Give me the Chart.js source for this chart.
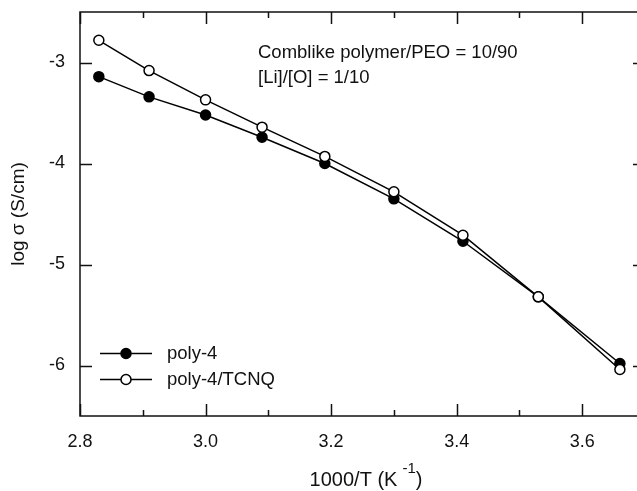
<!DOCTYPE html>
<html>
<head>
<meta charset="utf-8">
<script src="https://cdn.jsdelivr.net/npm/chart.js@4"></script>
<style>
  html, body { margin: 0; padding: 0; background: #fff; overflow: hidden; }
  #wrap { width: 637px; height: 491px; overflow: hidden; }
</style>
</head>
<body>
<div id="wrap"><canvas id="graph" width="660" height="491"></canvas></div>
<script>
// data
const invTemp = [2.83, 2.91, 3.00, 3.09, 3.19, 3.30, 3.41, 3.53, 3.66];
const poly4 = [-3.14, -3.34, -3.52, -3.74, -4.00, -4.35, -4.77, -5.32, -5.98];
const poly4Tcnq = [-2.78, -3.08, -3.37, -3.64, -3.93, -4.28, -4.71, -5.32, -6.04];
const seriesNames = ['poly-4', 'poly-4/TCNQ'];
const xTicks = [2.8, 3.0, 3.2, 3.4, 3.6];
const xMinorTicks = [2.9, 3.1, 3.3, 3.5];
const yTicks = [-6, -5, -4, -3];
const noteLines = ['Comblike polymer/PEO = 10/90', '[Li]/[O] = 1/10'];

const FONT = '"Liberation Sans", Arial, sans-serif';
const INK = '#111';

const toPoints = ys => ys.map((y, i) => ({ x: invTemp[i], y: y }));

// frame + inward ticks on all four sides
const frameTicks = {
  id: 'frameTicks',
  afterDraw(chart) {
    const c = chart.ctx, a = chart.chartArea;
    const sx = chart.scales.x, sy = chart.scales.y;
    c.save();
    c.strokeStyle = INK;
    c.lineWidth = 1.5;
    c.strokeRect(a.left, a.top, a.right - a.left, a.bottom - a.top);
    c.beginPath();
    const xt = xTicks.map(v => [v, 12]).concat(xMinorTicks.map(v => [v, 6]));
    xt.forEach(([v, len]) => {
      const px = Math.round(sx.getPixelForValue(v)) + 0.5;
      c.moveTo(px, a.bottom); c.lineTo(px, a.bottom - len);
      c.moveTo(px, a.top); c.lineTo(px, a.top + len);
    });
    yTicks.forEach(v => {
      const py = Math.round(sy.getPixelForValue(v)) + 0.5;
      c.moveTo(a.left, py); c.lineTo(a.left + 12, py);
      c.moveTo(a.right, py); c.lineTo(a.right - 12, py);
    });
    c.stroke();
    c.restore();
  }
};

// axis titles, note text and legend
const labels = {
  id: 'labels',
  afterDraw(chart) {
    const c = chart.ctx, a = chart.chartArea;
    c.save();
    c.fillStyle = INK;
    c.textBaseline = 'middle';

    // y title
    c.save();
    c.translate(19, (a.top + a.bottom) / 2);
    c.rotate(-Math.PI / 2);
    c.textAlign = 'center';
    c.font = '19px ' + FONT;
    c.fillText('log σ (S/cm)', 0, 0);
    c.restore();

    // x title with superscript
    const main = '1000/T (K';
    c.font = '20px ' + FONT;
    const w1 = c.measureText(main).width;
    c.font = '15px ' + FONT;
    const w2 = c.measureText('-1').width;
    c.font = '20px ' + FONT;
    const w3 = c.measureText(')').width;
    let x0 = 366 - (w1 + 5 + w2 + w3) / 2;
    c.textAlign = 'left';
    c.fillText(main, x0, 480);
    c.font = '15px ' + FONT;
    c.fillText('-1', x0 + w1 + 5, 469);
    c.font = '20px ' + FONT;
    c.fillText(')', x0 + w1 + 5 + w2, 480);

    // note
    c.font = '18.5px ' + FONT;
    noteLines.forEach((t, i) => c.fillText(t, 258, 53 + i * 24.5));

    // legend
    c.font = '18.5px ' + FONT;
    chart.data.datasets.forEach((ds, i) => {
      const y = 353.5 + i * 26;
      c.strokeStyle = '#000';
      c.lineWidth = 1.5;
      c.beginPath();
      c.moveTo(100, y); c.lineTo(152, y);
      c.stroke();
      c.beginPath();
      c.arc(126, y, 5, 0, Math.PI * 2);
      c.fillStyle = ds.pointBackgroundColor;
      c.fill();
      c.stroke();
      c.fillStyle = INK;
      c.fillText(ds.label, 167, y);
    });
    c.restore();
  }
};

new Chart(document.getElementById('graph'), {
  type: 'line',
  data: {
    datasets: [{
      label: seriesNames[0],
      data: toPoints(poly4),
      borderColor: '#000',
      borderWidth: 1.5,
      pointRadius: 5,
      pointBorderWidth: 1.5,
      pointBorderColor: '#000',
      pointBackgroundColor: '#000',
      order: 2
    }, {
      label: seriesNames[1],
      data: toPoints(poly4Tcnq),
      borderColor: '#000',
      borderWidth: 1.5,
      pointRadius: 5,
      pointBorderWidth: 1.5,
      pointBorderColor: '#000',
      pointBackgroundColor: '#fff',
      order: 1
    }]
  },
  options: {
    responsive: false,
    animation: false,
    devicePixelRatio: 1,
    layout: { padding: { top: 12, right: 15, left: 0, bottom: 0 } },
    plugins: { legend: { display: false }, tooltip: { enabled: false } },
    scales: {
      x: {
        type: 'linear',
        min: 2.8, max: 3.7,
        grid: { display: false, drawTicks: false },
        border: { display: false },
        afterBuildTicks: s => { s.ticks = xTicks.map(v => ({ value: v })); },
        afterFit: s => { s.height = 75; s.paddingLeft = 0; s.paddingRight = 0; },
        ticks: {
          padding: 15,
          color: INK,
          font: { family: FONT, size: 18 },
          maxRotation: 0,
          callback: v => Number(v).toFixed(1)
        }
      },
      y: {
        type: 'linear',
        min: -6.5, max: -2.5,
        grid: { display: false, drawTicks: false },
        border: { display: false },
        afterBuildTicks: s => { s.ticks = yTicks.map(v => ({ value: v })); },
        afterFit: s => { s.width = 80; s.paddingTop = 0; s.paddingBottom = 0; },
        ticks: {
          padding: 15,
          color: INK,
          font: { family: FONT, size: 18 },
          callback: v => String(v)
        }
      }
    }
  },
  plugins: [frameTicks, labels]
});
</script>
</body>
</html>
